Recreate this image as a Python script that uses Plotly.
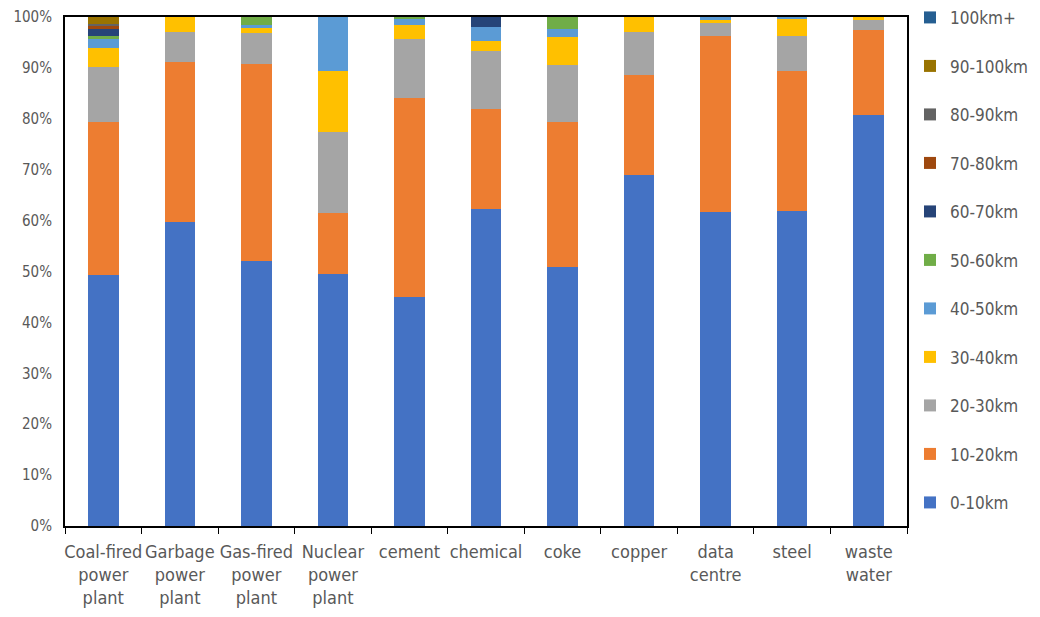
import plotly.graph_objects as go

categories = [
    "Coal-fired<br>power<br>plant", "Garbage<br>power<br>plant", "Gas-fired<br>power<br>plant",
    "Nuclear<br>power<br>plant", "cement", "chemical", "coke", "copper",
    "data<br>centre", "steel", "waste<br>water",
]

# share of facilities per distance band (%), one list per band
d_0_10 = [49.4, 59.8, 52.0, 49.5, 45.0, 62.3, 50.9, 69.0, 61.7, 61.9, 80.7]
d_10_20 = [29.9, 31.4, 38.7, 12.0, 39.0, 19.6, 28.5, 19.7, 34.6, 27.5, 16.7]
d_20_30 = [10.8, 5.9, 6.2, 15.9, 11.7, 11.4, 11.2, 8.4, 2.5, 6.9, 2.0]
d_30_40 = [3.8, 2.9, 1.0, 12.0, 2.7, 2.0, 5.5, 2.9, 0.6, 3.4, 0.6]
d_40_50 = [1.7, 0.0, 0.5, 10.6, 1.4, 2.8, 1.5, 0.0, 0.6, 0.3, 0.0]
d_50_60 = [0.7, 0.0, 1.6, 0.0, 0.2, 0.0, 2.4, 0.0, 0.0, 0.0, 0.0]
d_60_70 = [1.4, 0.0, 0.0, 0.0, 0.0, 1.9, 0.0, 0.0, 0.0, 0.0, 0.0]
d_70_80 = [0.7, 0.0, 0.0, 0.0, 0.0, 0.0, 0.0, 0.0, 0.0, 0.0, 0.0]
d_80_90 = [0.2, 0.0, 0.0, 0.0, 0.0, 0.0, 0.0, 0.0, 0.0, 0.0, 0.0]
d_90_100 = [1.4, 0.0, 0.0, 0.0, 0.0, 0.0, 0.0, 0.0, 0.0, 0.0, 0.0]
d_100_plus = [0.0, 0.0, 0.0, 0.0, 0.0, 0.0, 0.0, 0.0, 0.0, 0.0, 0.0]

bands = [
    ("0-10km", d_0_10, "#4472C4"),
    ("10-20km", d_10_20, "#ED7D31"),
    ("20-30km", d_20_30, "#A5A5A5"),
    ("30-40km", d_30_40, "#FFC000"),
    ("40-50km", d_40_50, "#5B9BD5"),
    ("50-60km", d_50_60, "#70AD47"),
    ("60-70km", d_60_70, "#264478"),
    ("70-80km", d_70_80, "#9E480E"),
    ("80-90km", d_80_90, "#636363"),
    ("90-100km", d_90_100, "#997300"),
    ("100km+", d_100_plus, "#255E91"),
]

FONT = "DejaVu Sans Condensed, Liberation Sans Narrow, sans-serif"
GREY = "#595959"

fig = go.Figure()
n = len(bands)
for i, (name, vals, color) in enumerate(bands):
    fig.add_trace(go.Bar(
        x=categories, y=vals, name=name, legendgroup=name,
        legendrank=n - i,
        marker=dict(color=color, line=dict(width=0)),
    ))

fig.update_layout(
    barmode="stack",
    bargap=0.6,
    width=1040, height=617,
    margin=dict(l=65, r=133, t=17, b=91),
    paper_bgcolor="white", plot_bgcolor="white",
    font=dict(family=FONT, color=GREY, size=16),
    showlegend=True,
    legend=dict(
        traceorder="grouped", tracegroupgap=23.4,
        xref="container", yref="container",
        x=0.875, xanchor="left", y=0.578, yanchor="middle",
        font=dict(family=FONT, size=17, color=GREY),
        itemwidth=30, maxheight=1.0,
    ),
    xaxis=dict(
        type="category", tickson="boundaries", ticks="outside", ticklen=6,
        tickcolor="black", tickwidth=1, tickangle=0,
        showline=True, linecolor="black", linewidth=2, mirror=True,
        ticklabelstandoff=8,
        tickfont=dict(family=FONT, size=18, color=GREY),
        showgrid=False, automargin=False,
    ),
    yaxis=dict(
        range=[0, 100], tickvals=list(range(0, 101, 10)),
        ticktext=[f"{v}%" for v in range(0, 101, 10)],
        showline=True, linecolor="black", linewidth=2, mirror=True,
        showgrid=False, zeroline=False, ticks="",
        ticklabelstandoff=8, automargin=False,
        tickfont=dict(family=FONT, size=15, color=GREY),
    ),
)

fig.write_html("out.html")
